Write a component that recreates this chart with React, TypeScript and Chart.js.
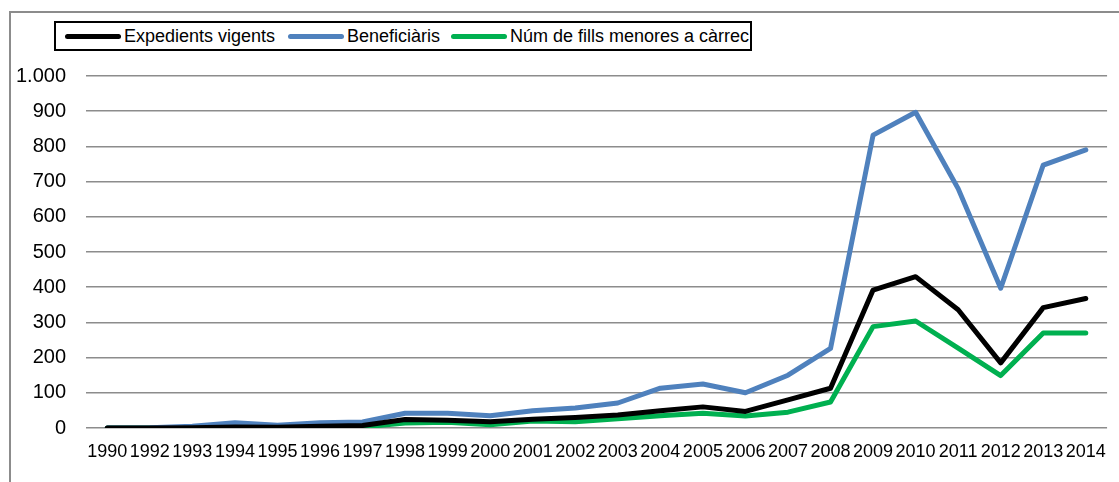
import React, { useEffect, useRef } from "react";
import { Chart, registerables } from "chart.js";

Chart.register(...registerables);

const years = ["1990","1992","1993","1994","1995","1996","1997","1998","1999","2000","2001","2002","2003","2004","2005","2006","2007","2008","2009","2010","2011","2012","2013","2014"];
const expedients = [0,0,1,3,2,5,7,24,22,18,25,30,37,49,60,47,80,113,392,430,336,185,342,368];
const beneficiaris = [0,1,5,15,8,15,17,42,42,35,49,57,71,113,125,100,150,226,832,897,680,397,747,790];
const fills = [0,0,0,1,0,2,3,14,16,9,20,18,26,35,42,34,45,74,288,304,227,149,270,270];
const yTicks = [0,100,200,300,400,500,600,700,800,900,1000];

const seriesNames = ["Expedients vigents", "Beneficiàris", "Núm de fills menores a càrrec"];
const seriesColors = ["#000000", "#4F81BD", "#00B050"];

const FONT = "'Liberation Sans', Arial, sans-serif";

export default function App() {
  const ref = useRef<HTMLCanvasElement | null>(null);
  useEffect(() => {
    if (!ref.current) return;
    const chart = new Chart(ref.current, {
      type: "line",
      data: {
        labels: years,
        datasets: [expedients, beneficiaris, fills].map((d, i) => ({
          label: seriesNames[i],
          data: d,
          borderColor: seriesColors[i],
          backgroundColor: seriesColors[i],
          borderWidth: 5,
          pointRadius: 0,
          tension: 0,
          borderJoinStyle: "round" as const,
          borderCapStyle: "round" as const,
        })),
      },
      options: {
        animation: false,
        responsive: false,
        maintainAspectRatio: false,
        layout: { padding: { top: 76, right: 9, left: 0, bottom: 0 } },
        plugins: { legend: { display: false }, tooltip: { enabled: false } },
        scales: {
          x: {
            offset: true,
            grid: { display: false, drawTicks: false },
            border: { display: false },
            ticks: {
              autoSkip: false,
              maxRotation: 0,
              minRotation: 0,
              padding: 13,
              color: "#000",
              font: { family: FONT, size: 18 },
            },
            afterFit: (s: any) => { s.height = 54; },
          },
          y: {
            min: 0,
            max: 1000,
            afterBuildTicks: (s: any) => { s.ticks = yTicks.map((v) => ({ value: v })); },
            grid: { color: "#8c8c8c", lineWidth: 1.5, drawTicks: false },
            border: { display: false },
            ticks: {
              padding: 20,
              color: "#000",
              font: { family: FONT, size: 20 },
              callback: (v: any) => String(v).replace(/\B(?=(\d{3})+(?!\d))/g, "."),
            },
            afterFit: (s: any) => { s.width = 86; },
          },
        },
      },
    });
    return () => chart.destroy();
  }, []);

  return (
    <div style={{ position: "fixed", left: 0, top: 0, width: 1119, height: 482, background: "#fff", overflow: "hidden" }}>
      <div style={{ position: "absolute", left: 9, top: 11, width: 1200, height: 600, border: "2px solid #8c8c8c" }} />
      <canvas ref={ref} width={1119} height={482} style={{ position: "absolute", left: 0, top: 0 }} />
      <div
        style={{
          position: "absolute", left: 54, top: 21, width: 694, height: 26,
          border: "2px solid #000", background: "#fff",
          fontFamily: FONT, fontSize: 18, color: "#000",
        }}
      >
        {seriesNames.map((n, i) => {
          const lefts = [9, 232, 395];
          return (
            <div key={n} style={{ position: "absolute", left: lefts[i], top: 0, height: 26, display: "flex", alignItems: "center", whiteSpace: "nowrap" }}>
              <span style={{ display: "inline-block", width: 56, height: 5, borderRadius: 3, background: seriesColors[i], marginRight: 3 }} />
              <span>{n}</span>
            </div>
          );
        })}
      </div>
    </div>
  );
}
